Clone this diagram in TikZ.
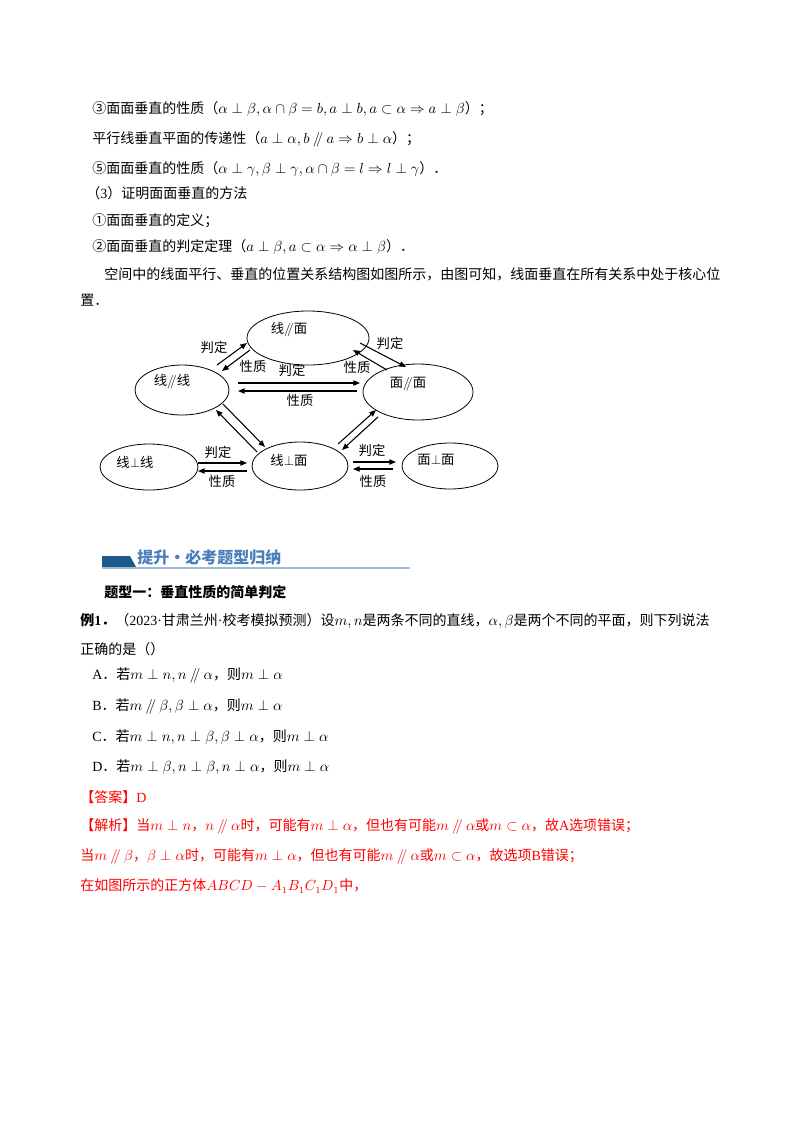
\documentclass[tikz,border=0pt]{standalone}
\usepackage{fontspec}
\setmainfont{Noto Sans CJK SC}
\newfontfamily\tnr{Liberation Serif}
\usetikzlibrary{arrows.meta,shapes.geometric}
\definecolor{hdark}{HTML}{1F5A8C}
\definecolor{htext}{HTML}{4A7EBB}
\definecolor{hline}{HTML}{9DBBD9}
\newcommand{\pl}{\mathbin{/\mkern-5mu/}}
\begin{document}
\begin{tikzpicture}[x=0.75pt,y=-0.75pt,
  txt/.style={anchor=west,inner sep=0pt,font=\fontsize{10.5}{12}\selectfont},
  red/.style={txt,text=red},
  ell/.style={draw,ellipse,line width=0.6pt,inner sep=0pt},
  lab/.style={inner sep=0pt,font=\fontsize{10}{12}\selectfont},
  arr/.style={-{Triangle[length=5pt,width=4pt]},line width=0.8pt}]
\useasboundingbox (0,0) rectangle (800,1132);
\fill[white] (0,0) rectangle (800,1132);
\node[txt] (t1) at (92,109) {③面面垂直的性质（$\alpha\perp\beta,\alpha\cap\beta=b,a\perp b,a\subset\alpha\Rightarrow a\perp\beta$）；};
\node[txt] (t2) at (92,139) {平行线垂直平面的传递性（$a\perp\alpha,b\pl a\Rightarrow b\perp\alpha$）；};
\node[txt] (t3) at (92,169) {⑤面面垂直的性质（$\alpha\perp\gamma,\beta\perp\gamma,\alpha\cap\beta=l\Rightarrow l\perp\gamma$）．};
\node[txt] (t4) at (86,193) {（{\tnr 3}）证明面面垂直的方法};
\node[txt] (t5) at (92,221) {①面面垂直的定义；};
\node[txt] (t6) at (92,247) {②面面垂直的判定定理（$a\perp\beta,a\subset\alpha\Rightarrow\alpha\perp\beta$）．};
\node[txt] (t7) at (104,274) {空间中的线面平行、垂直的位置关系结构图如图所示，由图可知，线面垂直在所有关系中处于核心位};
\node[txt] (t8) at (80,300) {置．};
% diagram
\node[ell,minimum width=91.5pt,minimum height=40.5pt] (lm) at (308,338) {};
\node[ell,minimum width=70.5pt,minimum height=37.5pt] (ll) at (182,390) {};
\node[ell,minimum width=82.5pt,minimum height=42pt] (mm) at (418,392) {};
\node[ell,minimum width=73.5pt,minimum height=34.5pt] (pl) at (149,467) {};
\node[ell,minimum width=72pt,minimum height=36pt] (pm) at (300,466) {};
\node[ell,minimum width=72pt,minimum height=34.5pt] (mp) at (450,466) {};
\node[lab] (lmt) at (289,330) {线$\pl$面};
\node[lab] (llt) at (172,382) {线$\pl$线};
\node[lab] (mmt) at (408,384) {面$\pl$面};
\node[lab] (plt) at (135,462) {线$\perp$线};
\node[lab] (pmt) at (289,460) {线$\perp$面};
\node[lab] (mpt) at (436,460) {面$\perp$面};
\coordinate (a1) at (217,365); \coordinate (a2) at (247,343);
\coordinate (b1) at (250,350); \coordinate (b2) at (222,371);
\draw[arr] (a1)--(a2); \draw[arr] (b1)--(b2);
\node[lab] (j1) at (214,347) {判定}; \node[lab] (x1) at (253,366) {性质};
\coordinate (c1) at (238,383); \coordinate (c2) at (360,383);
\coordinate (d1) at (357,391); \coordinate (d2) at (238,391);
\draw[arr] (c1)--(c2); \draw[arr] (d1)--(d2);
\node[lab] (j2) at (292,370) {判定}; \node[lab] (x2) at (300,400) {性质};
\coordinate (e1) at (360,343); \coordinate (e2) at (406,367);
\coordinate (f1) at (387,370); \coordinate (f2) at (353,350);
\draw[arr] (e1)--(e2); \draw[arr] (f1)--(f2);
\node[lab] (j3) at (390,343) {判定}; \node[lab] (x3) at (357,367) {性质};
\coordinate (g1) at (223,404); \coordinate (g2) at (265,447);
\coordinate (h1) at (257,452); \coordinate (h2) at (216,410);
\draw[arr] (g1)--(g2); \draw[arr] (h1)--(h2);
\coordinate (i1) at (338,444); \coordinate (i2) at (376,410);
\coordinate (k1) at (378,417); \coordinate (k2) at (342,450);
\draw[arr] (i1)--(i2); \draw[arr] (k1)--(k2);
\coordinate (m1) at (198,463); \coordinate (m2) at (247,463);
\coordinate (n1) at (247,471); \coordinate (n2) at (198,471);
\draw[arr] (m1)--(m2); \draw[arr] (n1)--(n2);
\node[lab] (j4) at (218,452) {判定}; \node[lab] (x4) at (222,481) {性质};
\coordinate (o1) at (353,462); \coordinate (o2) at (396,462);
\coordinate (q1) at (393,469); \coordinate (q2) at (353,469);
\draw[arr] (o1)--(o2); \draw[arr] (q1)--(q2);
\node[lab] (j5) at (372,450) {判定}; \node[lab] (x5) at (373,481) {性质};
% header
\fill[hdark] (102,556) -- (130,556) -- (136,567) -- (102,567) -- cycle;
\draw[hline,line width=0.8pt] (102,568) -- (410,568);
\node[txt,text=htext,font=\fontsize{12}{14}\selectfont\bfseries] (hd) at (137,557) {提升·必考题型归纳};
\node[txt,font=\fontsize{10.5}{12}\selectfont\bfseries] (q0) at (104,592) {题型一：垂直性质的简单判定};
\node[txt] (q1t) at (80,621) {\textbf{例{\tnr 1}．}（{\tnr 2023·}甘肃兰州{\tnr ·}校考模拟预测）设$m,n$是两条不同的直线，$\alpha,\beta$是两个不同的平面，则下列说法};
\node[txt] (q2t) at (80,649) {正确的是（）};
\node[txt] (oa) at (92,675) {{\tnr A}．若$m\perp n,n\pl\alpha$，则$m\perp\alpha$};
\node[txt] (ob) at (92,706) {{\tnr B}．若$m\pl\beta,\beta\perp\alpha$，则$m\perp\alpha$};
\node[txt] (oc) at (92,737) {{\tnr C}．若$m\perp n,n\perp\beta,\beta\perp\alpha$，则$m\perp\alpha$};
\node[txt] (od) at (92,767) {{\tnr D}．若$m\perp\beta,n\perp\beta,n\perp\alpha$，则$m\perp\alpha$};
\node[red] (ans) at (80,797) {【答案】{\tnr D}};
\node[red] (s1) at (80,826) {【解析】当$m\perp n$，$n\pl\alpha$时，可能有$m\perp\alpha$，但也有可能$m\pl\alpha$或$m\subset\alpha$，故{\tnr A}选项错误；};
\node[red] (s2) at (80,856) {当$m\pl\beta$，$\beta\perp\alpha$时，可能有$m\perp\alpha$，但也有可能$m\pl\alpha$或$m\subset\alpha$，故选项{\tnr B}错误；};
\node[red] (s3) at (80,886) {在如图所示的正方体$ABCD-A_1B_1C_1D_1$中，};
\end{tikzpicture}
\end{document}
